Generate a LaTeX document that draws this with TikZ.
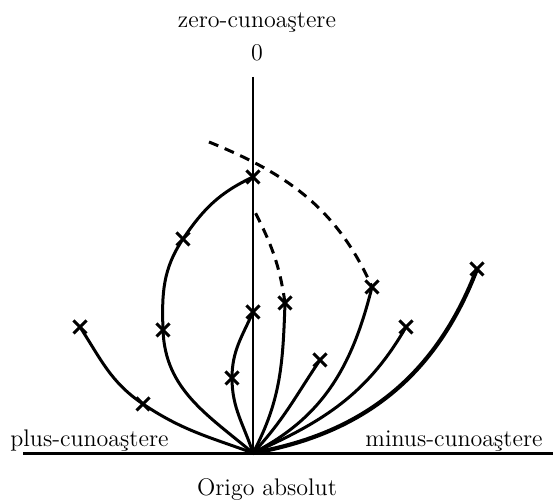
\documentclass[tikz,border=0pt]{standalone}
\usetikzlibrary{shapes.misc}
\begin{document}
\begin{tikzpicture}[x=0.5pt,y=0.5pt,
 curve/.style={line width=1.5pt, line cap=round},
 thick curve/.style={line width=2.1pt, line cap=round},
 dcurve/.style={line width=1.5pt, dash pattern=on 5pt off 3.5pt},
 mk/.style={draw, cross out, minimum size=5pt, inner sep=0pt, line width=1.5pt},
 lbl/.style={font=\fontsize{12}{14}\selectfont, inner sep=0pt}]
\useasboundingbox (0,0) rectangle (553,503);
\coordinate (O) at (253,50);
\coordinate (Atop) at (253,426);
\coordinate (Hl) at (23,49);
\coordinate (Hr) at (553,49);
\coordinate (d1) at (254,293);
\coordinate (d2) at (209,361);
% markers
\node[mk] (m1) at (80,176) {};
\node[mk] (m2) at (143,99) {};
\node[mk] (m3) at (163,173) {};
\node[mk] (m4) at (183,264) {};
\node[mk] (m5) at (253,326) {};
\node[mk] (m6) at (232,125) {};
\node[mk] (m7) at (253,191) {};
\node[mk] (m8) at (285,200) {};
\node[mk] (m9) at (372,216) {};
\node[mk] (m10) at (320,143) {};
\node[mk] (m11) at (406,176) {};
\node[mk] (m12) at (477,234) {};
% axes
\draw[line width=1.4pt] (Atop) -- (O);
\draw[line width=1.5pt] (Hl) -- (Hr);
% curve A
\draw[curve] (O) to[out=160,in=-34] (m2.center) to[out=146,in=-57] (m1.center);
% curve B
\draw[curve] (O) to[out=140,in=-88] (m3.center) to[out=92,in=-124] (m4.center) to[out=56,in=-155] (m5.center);
% curve C
\draw[curve] (O) to[out=108,in=-90] (m6.center) to[out=90,in=-114] (m7.center);
% curve D
\draw[curve] (O) to[out=62,in=-92] (m8.center);
\draw[dcurve] (m8.center) to[out=98,in=-63] (d1);
% curve E
\draw[curve] (O) to[out=27,in=-104] (m9.center);
\draw[dcurve] (d2) to[out=-22,in=114] (m9.center);
% curve F
\draw[curve] (O) to[out=47,in=-124] (m10.center);
% curve G
\draw[curve] (O) to[out=24,in=-120] (m11.center);
% curve H
\draw[thick curve] (O) to[out=10,in=-111] (m12.center);
% labels
\node[lbl] (zero) at (257,480) {zero-cunoaştere};
\node[lbl] (nul) at (257,450) {0};
\node[lbl, anchor=west] (plus) at (10,62) {plus-cunoaştere};
\node[lbl, anchor=east] (minus) at (543,62) {minus-cunoaştere};
\node[lbl] (origo) at (267,13) {Origo absolut};
\end{tikzpicture}
\end{document}
